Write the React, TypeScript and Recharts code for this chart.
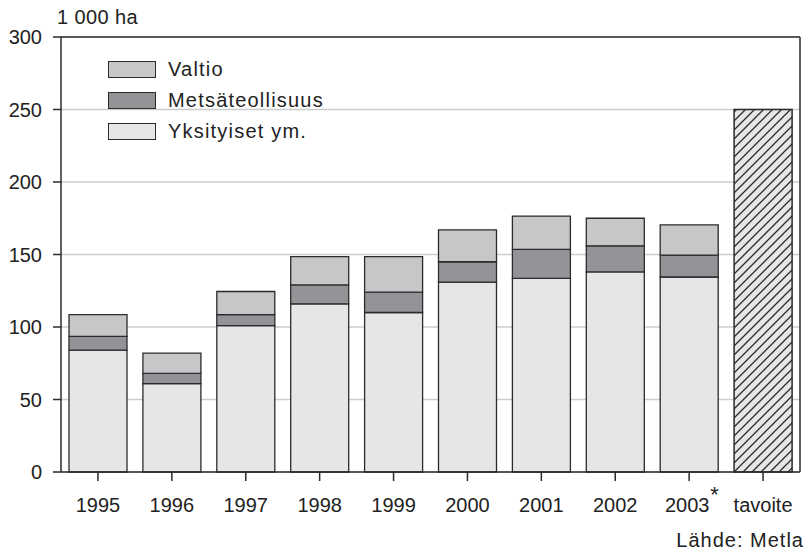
import { BarChart, Bar, XAxis, YAxis, CartesianGrid, ReferenceLine } from 'recharts'

const YEARS = ['1995', '1996', '1997', '1998', '1999', '2000', '2001', '2002', '2003*', 'tavoite']
const YKSITYISET = [84, 61, 101, 116, 110, 131, 133.5, 138, 134.5, null]
const METSATEOLLISUUS = [9.5, 7, 7.5, 13, 14, 14, 20, 18, 15, null]
const VALTIO = [15, 14, 16, 19.5, 24.5, 22, 23, 19, 21, null]
const TAVOITE = [null, null, null, null, null, null, null, null, null, 250]
const Y_TICKS = [0, 50, 100, 150, 200, 250, 300]
const LEGEND_LABELS = ['Valtio', 'Metsäteollisuus', 'Yksityiset ym.']

const COLORS = {
  valtio: '#c6c7c9',
  metsa: '#939497',
  yksit: '#e5e6e8',
  edge: '#2b2b2b',
  grid: '#cccccc',
}
const LEGEND_COLORS = [COLORS.valtio, COLORS.metsa, COLORS.yksit]

const FONT = '"Liberation Sans", Arial, sans-serif'

const data = YEARS.map((year, i) => ({
  year,
  yksit: YKSITYISET[i],
  metsa: METSATEOLLISUUS[i],
  valtio: VALTIO[i],
  tavoite: TAVOITE[i],
}))

function YearTick({ x, y, payload }: any) {
  const label: string = payload.value
  const star = label.endsWith('*')
  const text = star ? label.slice(0, -1) : label
  return (
    <g>
      <text x={star ? x - 2 : x} y={y} dy={14} textAnchor="middle" fontSize={20} fill="#222" fontFamily={FONT}>
        {text}
      </text>
      {star && (
        <text x={x + 21} y={y} dy={4} textAnchor="start" fontSize={22} fill="#222" fontFamily={FONT}>
          *
        </text>
      )}
    </g>
  )
}

function LegendBox() {
  return (
    <div style={{ position: 'absolute', left: 108, top: 54, fontFamily: FONT }}>
      {LEGEND_LABELS.map((label, i) => (
        <div key={label} style={{ display: 'flex', alignItems: 'center', height: 31 }}>
          <div
            style={{
              width: 46,
              height: 15,
              background: LEGEND_COLORS[i],
              border: `1.5px solid ${COLORS.edge}`,
              marginRight: 12,
            }}
          />
          <span style={{ fontSize: 20, letterSpacing: 1.2, color: '#222' }}>{label}</span>
        </div>
      ))}
    </div>
  )
}

export default function App() {
  return (
    <div style={{ position: 'absolute', left: 0, top: 0, width: 810, height: 557, background: '#fff' }}>
      <BarChart
        width={810}
        height={557}
        data={data}
        margin={{ top: 37, right: 8, left: 0, bottom: 45 }}
        barCategoryGap={8}
      >
        <defs>
          <pattern id="hatch" patternUnits="userSpaceOnUse" width="9" height="9">
            <rect width="9" height="9" fill={COLORS.yksit} />
            <path d="M0,9 L9,0 M-2,2 L2,-2 M7,11 L11,7" stroke={COLORS.edge} strokeWidth={1.3} />
          </pattern>
        </defs>
        <CartesianGrid horizontal vertical={false} stroke={COLORS.grid} strokeWidth={1.5} />
        <XAxis
          dataKey="year"
          tick={<YearTick />}
          tickSize={9}
          tickMargin={17}
          height={40}
          interval={0}
          axisLine={{ stroke: COLORS.edge, strokeWidth: 1.5 }}
          tickLine={{ stroke: COLORS.edge, strokeWidth: 1.5 }}
        />
        <YAxis
          domain={[0, 300]}
          ticks={Y_TICKS}
          width={61}
          tickSize={8}
          tickMargin={11}
          tick={{ fontSize: 20, fill: '#222', fontFamily: FONT }}
          axisLine={{ stroke: COLORS.edge, strokeWidth: 1.5 }}
          tickLine={{ stroke: COLORS.edge, strokeWidth: 1.5 }}
        />
        <YAxis
          yAxisId="frame"
          orientation="right"
          domain={[0, 300]}
          width={2}
          tick={false}
          tickLine={false}
          axisLine={{ stroke: COLORS.edge, strokeWidth: 1.5 }}
        />
        <ReferenceLine y={300} stroke={COLORS.edge} strokeWidth={1.5} />
        <Bar
          dataKey="yksit"
          name="Yksityiset ym."
          stackId="a"
          fill={COLORS.yksit}
          stroke={COLORS.edge}
          strokeWidth={1.3}
          isAnimationActive={false}
        />
        <Bar
          dataKey="metsa"
          name="Metsäteollisuus"
          stackId="a"
          fill={COLORS.metsa}
          stroke={COLORS.edge}
          strokeWidth={1.3}
          isAnimationActive={false}
        />
        <Bar
          dataKey="valtio"
          name="Valtio"
          stackId="a"
          fill={COLORS.valtio}
          stroke={COLORS.edge}
          strokeWidth={1.3}
          isAnimationActive={false}
        />
        <Bar
          dataKey="tavoite"
          name="tavoite"
          stackId="a"
          fill="url(#hatch)"
          stroke={COLORS.edge}
          strokeWidth={1.5}
          isAnimationActive={false}
        />
      </BarChart>
      <LegendBox />
      <div
        style={{
          position: 'absolute',
          left: 57,
          top: 6,
          fontFamily: FONT,
          fontSize: 20,
          letterSpacing: 0.4,
          color: '#222',
        }}
      >
        1 000 ha
      </div>
      <div
        style={{
          position: 'absolute',
          right: 6,
          top: 529,
          fontFamily: FONT,
          fontSize: 20,
          letterSpacing: 1,
          color: '#222',
        }}
      >
        Lähde: Metla
      </div>
    </div>
  )
}
